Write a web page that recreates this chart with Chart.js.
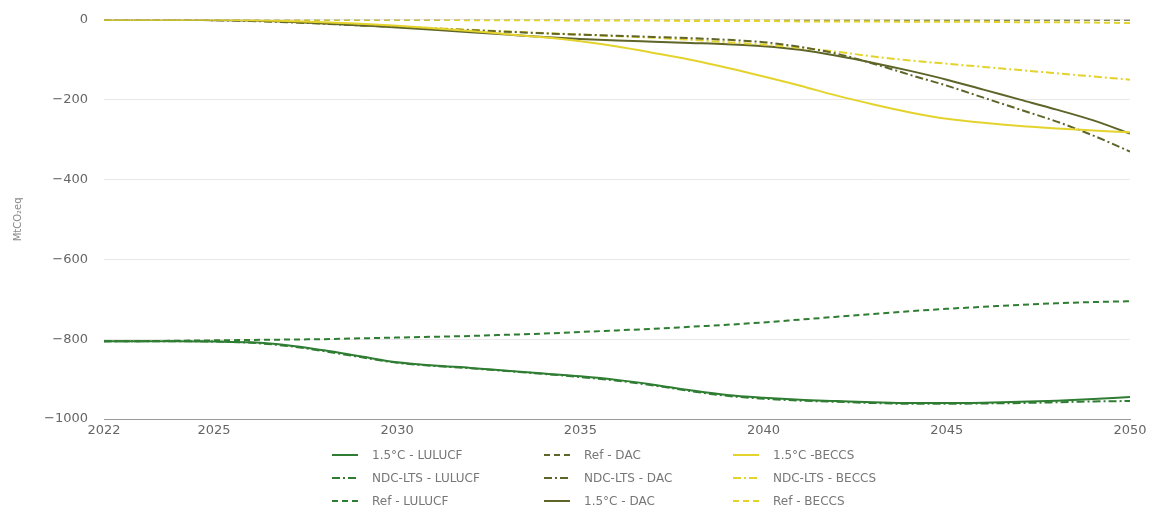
<!DOCTYPE html>
<html>
<head>
<meta charset="utf-8">
<script src="https://cdn.jsdelivr.net/npm/chart.js@4"></script>
<style>
  body { margin: 0; background: #fff; font-family: "DejaVu Sans", sans-serif; overflow: hidden; }
  #wrap { position: relative; width: 1155px; height: 513px; overflow: hidden; }
  #c { position: absolute; left: 0; top: -4px; }
  #legend { position: absolute; left: 332px; top: 443px; display: grid;
            grid-template-columns: 212px 189px 200px; grid-auto-rows: 23px; }
  .item { display: flex; align-items: center; font-size: 12px; color: #777; white-space: nowrap; }
  .item svg { margin-right: 14px; }
</style>
</head>
<body>
<div id="wrap">
  <canvas id="c" width="1155" height="449"></canvas>
  <div id="legend"></div>
</div>
<script>
// years 2022..2050
const years = [2022,2023,2024,2025,2026,2027,2028,2029,2030,2031,2032,2033,2034,2035,2036,2037,2038,2039,2040,2041,2042,2043,2044,2045,2046,2047,2048,2049,2050];
const xTicks = [2022, 2025, 2030, 2035, 2040, 2045, 2050];
const yTicks = [0, -200, -400, -600, -800, -1000];

const lulucf15 = [-805,-805,-805,-806,-808,-815,-828,-843,-858,-866,-872,-879,-886,-893,-902,-914,-928,-940,-947,-952,-955,-958,-960,-960,-959,-957,-954,-950,-945];
const lulucfNdc = [-805,-805,-805,-806,-809,-817,-830,-845,-859,-867,-873,-880,-887,-895,-904,-916,-930,-942,-949,-954,-957,-960,-962,-962,-961,-960,-958,-956,-955];
const lulucfRef = [-805,-805,-804,-803,-802,-801,-800,-798,-796,-794,-792,-789,-786,-782,-778,-774,-769,-764,-758,-751,-744,-737,-730,-724,-719,-714,-710,-707,-705];
const dacRef = [0,0,0,0,0,0,0,0,0,0,0,0,0,0,0,0,0,0,0,0,0,0,0,0,0,0,0,0,0];
const dacNdc = [0,0,0,-1,-3,-6,-10,-14,-18,-22,-26,-30,-34,-37,-40,-43,-46,-50,-56,-68,-85,-110,-138,-165,-195,-225,-255,-290,-330];
const dac15 = [0,0,0,-1,-2,-5,-9,-14,-19,-25,-31,-37,-43,-48,-52,-55,-58,-61,-66,-75,-90,-108,-128,-150,-175,-200,-225,-252,-285];
const beccs15 = [0,0,0,0,-1,-3,-6,-10,-15,-21,-28,-36,-44,-54,-67,-83,-100,-120,-142,-165,-190,-212,-232,-248,-258,-266,-272,-277,-282];
const beccsNdc = [0,0,0,0,-2,-5,-9,-13,-17,-21,-25,-29,-33,-37,-41,-45,-50,-56,-62,-70,-80,-92,-102,-110,-118,-126,-134,-142,-150];
const beccsRef = [0,0,0,0,0,0,0,0,0,0,-1,-1,-1,-2,-2,-2,-3,-3,-3,-4,-4,-4,-5,-5,-5,-6,-6,-7,-8];

const GREEN = '#2f7d32', OLIVE = '#5f6428', YELLOW = '#e3d32c';
const SOLID = [], DASH = [6, 4], DASHDOT = [8, 3, 2, 3];

function ds(label, data, color, dash, order) {
  return {
    label: label,
    data: data.map((v, i) => ({ x: years[i], y: v })),
    borderColor: color, backgroundColor: color, borderDash: dash,
    borderWidth: 2, pointRadius: 0, cubicInterpolationMode: 'monotone', fill: false,
    order: order || 0
  };
}

// row-major order so the legend grid reads column by column as in the original
const datasets = [
  ds('1.5°C - LULUCF', lulucf15, GREEN, SOLID),
  ds('Ref - DAC', dacRef, OLIVE, DASH, 10),
  ds('1.5°C -BECCS', beccs15, YELLOW, SOLID),
  ds('NDC-LTS - LULUCF', lulucfNdc, GREEN, DASHDOT),
  ds('NDC-LTS - DAC', dacNdc, OLIVE, DASHDOT),
  ds('NDC-LTS - BECCS', beccsNdc, YELLOW, DASHDOT),
  ds('Ref - LULUCF', lulucfRef, GREEN, DASH),
  ds('1.5°C - DAC', dac15, OLIVE, SOLID),
  ds('Ref - BECCS', beccsRef, YELLOW, DASH)
];

const fmt = v => (v < 0 ? '\u2212' + Math.abs(v) : String(v));

const chart = new Chart(document.getElementById('c'), {
  type: 'line',
  data: { datasets: datasets },
  options: {
    responsive: false,
    animation: false,
    devicePixelRatio: 1,
    layout: { padding: { top: 11, right: 25, left: 0, bottom: 0 } },
    plugins: { legend: { display: false }, tooltip: { enabled: false } },
    scales: {
      x: {
        type: 'linear', min: 2022, max: 2050,
        afterBuildTicks: s => { s.ticks = xTicks.map(v => ({ value: v })); },
        afterFit: s => { s.height = 26; },
        grid: { display: false, drawTicks: false },
        border: { color: '#999', width: 1 },
        ticks: { color: '#666', font: { size: 13, family: 'DejaVu Sans' }, padding: 4,
                 maxRotation: 0, callback: v => String(v) }
      },
      y: {
        min: -1000, max: 0,
        afterBuildTicks: s => { s.ticks = yTicks.map(v => ({ value: v })); },
        afterFit: s => { s.width = 104; },
        border: { display: false },
        grid: { color: c => (c.tick.value === -1000 ? '#aaa' : '#e8e8e8'), drawTicks: false },
        ticks: { color: '#666', font: { size: 13, family: 'DejaVu Sans' }, padding: 16,
                 callback: v => fmt(v) },
        title: { display: true, text: 'MtCO\u2082eq', color: '#888',
                 font: { size: 10, family: 'DejaVu Sans' }, padding: { top: 12, bottom: 0 } }
      }
    }
  }
});

// HTML legend built from the chart datasets
const leg = document.getElementById('legend');
chart.data.datasets.forEach(d => {
  const it = document.createElement('div');
  it.className = 'item';
  const dash = d.borderDash.length ? d.borderDash.join(',') : 'none';
  it.innerHTML = '<svg width="26" height="6"><line x1="0" y1="3" x2="26" y2="3" stroke="' +
    d.borderColor + '" stroke-width="2" stroke-dasharray="' + dash + '"/></svg><span></span>';
  it.querySelector('span').textContent = d.label;
  leg.appendChild(it);
});
</script>
</body>
</html>
